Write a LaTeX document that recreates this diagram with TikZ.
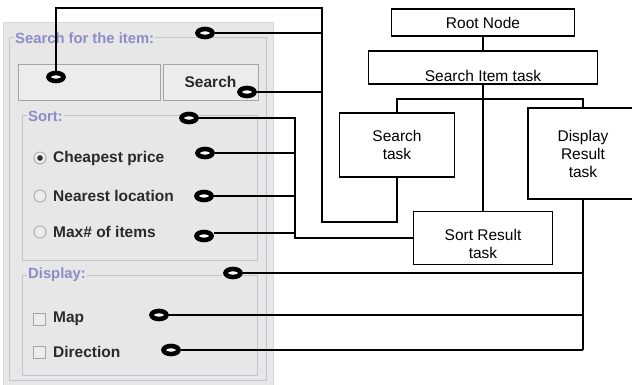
\documentclass[tikz,border=0pt]{standalone}
\usepackage{fontspec}
\setmainfont{Liberation Sans}
\usetikzlibrary{shapes.geometric}

\definecolor{panel}{RGB}{231,231,231}
\definecolor{etch}{RGB}{196,196,202}
\definecolor{legend}{RGB}{140,140,200}
\definecolor{widget}{RGB}{42,42,42}
\definecolor{fieldbg}{RGB}{236,236,236}
\definecolor{fieldrule}{RGB}{165,165,165}

\tikzset{
  hole/.style={ellipse, draw=black, line width=4.6pt, fill=white,
    minimum width=15pt, minimum height=8pt, inner sep=0pt},
  wire/.style={draw=black, line width=2pt},
  thinwire/.style={draw=black, line width=1.4pt},
  taskbox/.style={draw=black, line width=1.6pt, fill=white, align=center,
    inner sep=0pt, font=\fontsize{15.5}{18}\selectfont},
  tasklabel/.style={font=\fontsize{15.5}{17.5}\selectfont, align=center},
  groupframe/.style={draw=etch, line width=1pt},
  legendtext/.style={text=legend, font=\bfseries\fontsize{14.8}{16}\selectfont,
    fill=panel, inner xsep=1pt, inner ysep=0pt, anchor=west},
  widgettext/.style={text=widget, font=\bfseries\fontsize{15.5}{16}\selectfont,
    anchor=west, inner sep=0pt},
  radio/.style={circle, draw=fieldrule, line width=0.8pt, fill=fieldbg,
    minimum size=12pt, inner sep=0pt},
  checkbox/.style={rectangle, draw=fieldrule, line width=0.8pt, fill=fieldbg,
    minimum size=12pt, inner sep=0pt},
  field/.style={rectangle, draw=fieldrule, line width=0.8pt, fill=fieldbg,
    inner sep=0pt},
}

\begin{document}
\begin{tikzpicture}[x=1pt, y=-1pt]
  \useasboundingbox (0,0) rectangle (632,385);
  \clip (0,0) rectangle (632,385);

  % ---------- form panel ----------
  \fill[panel] (3,22) rectangle (273,385);
  \draw[draw=gray!30, line width=0.8pt] (3,385) -- (3,22) -- (273,22) -- (273,385);

  % outer group: search
  \draw[groupframe] (9,38) rectangle (266,380);
  \node[legendtext] (lgsearch) at (14,38) {Search for the item:};

  \node[field, minimum width=142pt, minimum height=36pt] (tfield) at (89,82) {};
  \node[field, minimum width=95pt, minimum height=36pt,
        text=widget, font=\bfseries\fontsize{15.5}{16}\selectfont] (sbtn) at (210.5,82) {Search};

  % sort group
  \draw[groupframe] (22,116) rectangle (257,260);
  \node[legendtext] (lgsort) at (27,116) {Sort:};

  \node[radio] (r1) at (40,158) {};
  \fill[widget] (r1.center) circle (2.8pt);
  \node[widgettext] (t1) at (53,158) {Cheapest price};
  \node[radio] (r2) at (40,196) {};
  \node[widgettext] (t2) at (53,196) {Nearest location};
  \node[radio] (r3) at (40,232) {};
  \node[widgettext] (t3) at (53,232) {Max\# of items};

  % display group
  \draw[groupframe] (22,275) rectangle (257,375);
  \node[legendtext] (lgdisp) at (27,275) {Display:};

  \node[checkbox] (c1) at (39,319) {};
  \node[widgettext] (t4) at (53,319) {Map};
  \node[checkbox] (c2) at (39,352) {};
  \node[widgettext] (t5) at (53,352) {Direction};

  % ---------- task tree ----------
  \node[taskbox, minimum width=183pt, minimum height=27pt] (root) at (483,22.5) {Root Node};
  \node[taskbox, minimum width=229pt, minimum height=33pt,
        label={[tasklabel, yshift=-8pt]center:Search Item task}] (sit) at (483,67.5) {};
  \node[taskbox, minimum width=115pt, minimum height=64pt] (st) at (397,145) {Search\\task};
  \node[taskbox, minimum width=110pt, minimum height=91pt] (dr) at (583,153.5) {Display\\Result\\task};
  \node[taskbox, minimum width=139pt, minimum height=53pt,
        label={[tasklabel, yshift=-6pt]center:Sort Result\\task}] (sr) at (483,238) {};

  \draw[thinwire] (root.south) -- (sit.north);
  \draw[wire] (sit.south) -- (sr.north);
  \draw[thinwire] (st.north) -- (st.north |- 0,99) -- (dr.north |- 0,99) -- (dr.north);

  % ---------- markers on the form ----------
  \node[hole] (e1) at (56,77) {};
  \node[hole] (e2) at (205,33) {};
  \node[hole] (e3) at (247,92) {};
  \node[hole] (e4) at (189,118) {};
  \node[hole] (e5) at (205,153) {};
  \node[hole] (e6) at (204,196) {};
  \node[hole] (e7) at (204,236) {};
  \node[hole] (e8) at (233,273) {};
  \node[hole] (e9) at (159,315) {};
  \node[hole] (e10) at (171,350) {};

  % search widgets -> search task
  \coordinate (busA) at (322,8);
  \coordinate (busAb) at (322,222);
  \draw[wire] (e1.north) -- (e1.north |- busA) -- (busA) -- (busAb) -| (st.south);
  \draw[wire] (e2.east) -- (e2.east -| busA);
  \draw[wire] (e3.east) -- (e3.east -| busA);

  % sort widgets -> sort result task
  \coordinate (busB) at (295,118);
  \coordinate (busBb) at (295,238);
  \draw[wire] (e4.east) -- (busB) -- (busBb) -- (busBb -| sr.west);
  \draw[wire] (e5.east) -- (e5.east -| busB);
  \draw[wire] (e6.east) -- (e6.east -| busB);
  \draw[wire] ([yshift=3pt]e7.east) -- ([yshift=3pt]e7.east -| busB);

  % display widgets -> display result task
  \draw[wire] (dr.south) -- (dr.south |- e9.east);
  \draw[thinwire] (dr.south |- e9.east) -- (dr.south |- e10.east);
  \draw[wire] (e8.east) -- (e8.east -| dr.south);
  \draw[wire] (e9.east) -- (e9.east -| dr.south);
  \draw[thinwire] (e10.east) -- (e10.east -| dr.south);
\end{tikzpicture}
\end{document}
